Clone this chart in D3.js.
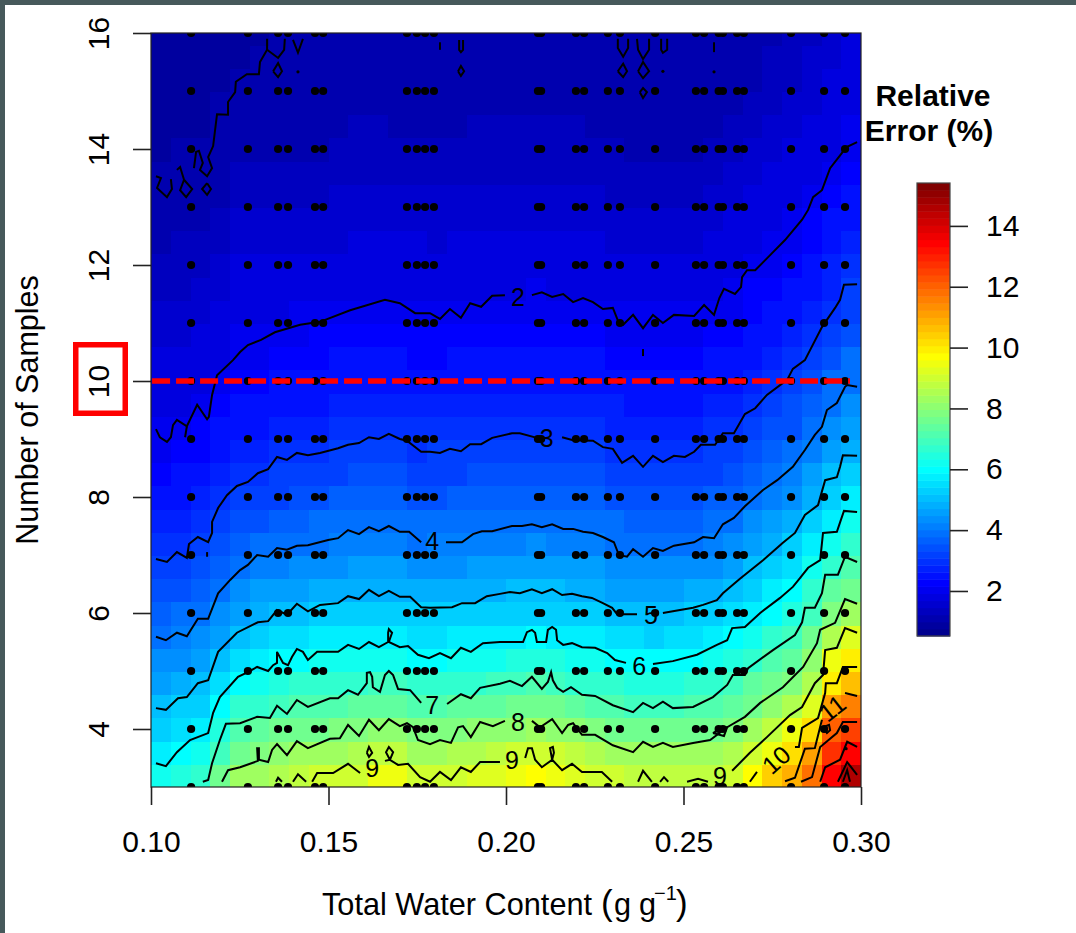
<!DOCTYPE html>
<html>
<head>
<meta charset="utf-8">
<script src="https://cdn.jsdelivr.net/npm/d3@7"></script>
<style>
  body { margin: 0; background: #fff; }
  text { font-family: "Liberation Sans", Arial, sans-serif; fill: #000; }
</style>
</head>
<body>
<div id="my_dataviz"></div>
<script>
// heat cells: centre of each column (g/g) and of each row (samples)
var heatColumns = [.1028,.1083,.1139,.1194,.125,.1306,.1361,.1417,.1472,.1528,.1583,.1639,.1694,.175,.1806,.1861,.1917,.1972,.2028,.2083,.2139,.2194,.225,.2306,.2361,.2417,.2472,.2528,.2583,.2639,.2694,.275,.2806,.2861,.2917,.2972];
var heatRows = [3.2,3.6,4,4.4,4.8,5.2,5.6,6,6.4,6.8,7.2,7.6,8,8.4,8.8,9.2,9.6,10,10.4,10.8,11.2,11.6,12,12.4,12.8,13.2,13.6,14,14.4,14.8,15.2,15.6,16];

// relative error, one line per heatRows entry
var heatValues = [
[6.2,6.4,6.6,7.5,8.2,8.4,8.6,8.8,8.9,9.0,9.1,9.4,9.4,9.0,8.9,9.0,9.2,9.3,9.5,9.6,9.5,9.3,9.1,8.9,8.8,8.8,8.8,8.8,8.8,9.1,9.8,10.3,10.9,11.9,13.5,14.6],
[5.8,6.0,6.2,7.0,7.7,7.9,8.1,8.2,8.3,8.4,8.5,8.7,8.7,8.4,8.4,8.5,8.6,8.7,8.9,9.1,8.9,8.7,8.5,8.4,8.2,8.2,8.2,8.2,8.3,8.5,9.0,9.5,10.1,11.0,12.7,13.4],
[5.4,5.6,5.8,6.5,7.1,7.3,7.5,7.6,7.7,7.8,7.9,8.0,8.0,7.8,7.8,7.9,8.0,8.0,8.1,8.2,8.1,8.0,7.9,7.7,7.6,7.5,7.5,7.6,7.7,7.9,8.2,8.8,9.4,10.1,12.0,12.4],
[5.0,5.2,5.4,6.0,6.6,6.8,6.9,7.1,7.2,7.2,7.3,7.4,7.4,7.2,7.2,7.3,7.4,7.4,7.5,7.6,7.5,7.4,7.2,7.1,7.0,7.0,7.0,7.1,7.2,7.4,7.7,8.1,8.6,9.3,11.1,11.5],
[4.6,4.8,5.0,5.6,6.1,6.3,6.5,6.6,6.7,6.8,6.8,6.9,6.9,6.7,6.7,6.8,6.8,6.9,7.0,7.1,7.0,6.8,6.7,6.6,6.5,6.4,6.5,6.6,6.7,6.9,7.3,7.5,7.8,8.6,10.0,10.7],
[4.3,4.4,4.6,5.1,5.6,5.8,6.0,6.1,6.2,6.2,6.2,6.3,6.3,6.1,6.1,6.2,6.2,6.3,6.4,6.5,6.4,6.3,6.2,6.0,5.9,5.9,6.0,6.1,6.2,6.4,6.8,7.1,7.4,8.0,9.4,9.9],
[4.0,4.1,4.3,4.7,5.1,5.3,5.5,5.6,5.7,5.7,5.8,5.8,5.8,5.6,5.6,5.7,5.7,5.8,5.8,5.9,5.8,5.8,5.7,5.6,5.5,5.4,5.5,5.6,5.8,6.0,6.3,6.6,7.0,7.5,8.5,9.2],
[3.7,3.8,3.9,4.3,4.7,4.9,5.0,5.1,5.2,5.3,5.3,5.3,5.3,5.2,5.2,5.2,5.3,5.3,5.4,5.4,5.4,5.3,5.2,5.1,5.0,5.0,5.1,5.2,5.3,5.5,5.8,6.1,6.5,7.0,7.8,8.4],
[3.4,3.5,3.6,4.0,4.3,4.5,4.6,4.7,4.8,4.9,4.9,4.9,4.9,4.8,4.8,4.8,4.9,4.9,5.0,5.0,5.0,4.9,4.9,4.7,4.7,4.6,4.7,4.8,4.8,5.0,5.4,5.7,6.0,6.6,7.3,7.7],
[3.1,3.2,3.4,3.7,4.0,4.1,4.2,4.3,4.4,4.4,4.5,4.5,4.5,4.4,4.4,4.4,4.5,4.5,4.6,4.6,4.6,4.5,4.5,4.4,4.3,4.3,4.3,4.4,4.4,4.6,5.0,5.3,5.6,6.2,6.8,7.1],
[2.9,3.0,3.1,3.4,3.7,3.8,3.9,4.0,4.0,4.1,4.1,4.1,4.1,4.0,4.1,4.1,4.1,4.2,4.2,4.3,4.2,4.2,4.1,4.0,4.0,3.9,3.9,4.0,4.1,4.3,4.6,4.9,5.2,5.7,6.2,6.6],
[2.7,2.8,2.9,3.1,3.4,3.5,3.6,3.7,3.8,3.8,3.8,3.8,3.8,3.8,3.8,3.8,3.8,3.9,3.9,4.0,3.9,3.9,3.8,3.8,3.7,3.6,3.7,3.7,3.8,4.0,4.3,4.5,4.8,5.3,5.8,6.2],
[2.5,2.6,2.7,2.9,3.1,3.2,3.3,3.5,3.5,3.6,3.6,3.6,3.6,3.5,3.5,3.6,3.6,3.6,3.7,3.7,3.7,3.6,3.6,3.5,3.4,3.4,3.5,3.5,3.6,3.7,4.0,4.2,4.4,4.9,5.4,5.8],
[2.3,2.4,2.5,2.7,2.9,3.0,3.1,3.2,3.3,3.3,3.4,3.4,3.4,3.3,3.3,3.3,3.4,3.4,3.4,3.5,3.4,3.4,3.4,3.3,3.2,3.2,3.2,3.3,3.3,3.5,3.7,3.9,4.1,4.5,5.0,5.3],
[2.1,2.2,2.3,2.5,2.8,2.8,2.9,3.0,3.0,3.1,3.1,3.1,3.1,3.0,3.1,3.1,3.1,3.1,3.2,3.2,3.2,3.1,3.1,3.0,3.0,3.0,3.0,3.0,3.1,3.2,3.5,3.6,3.8,4.2,4.6,4.9],
[2.0,2.0,2.2,2.4,2.6,2.6,2.7,2.8,2.8,2.9,2.9,2.9,2.9,2.9,2.9,2.9,2.9,2.9,3.0,3.0,3.0,2.9,2.9,2.8,2.8,2.8,2.8,2.8,2.9,3.0,3.2,3.4,3.5,3.9,4.3,4.6],
[1.9,1.9,2.0,2.2,2.4,2.5,2.5,2.6,2.6,2.7,2.7,2.7,2.7,2.7,2.7,2.7,2.7,2.7,2.8,2.8,2.8,2.7,2.7,2.7,2.6,2.6,2.6,2.6,2.7,2.8,3.0,3.2,3.4,3.7,4.0,4.3],
[1.8,1.8,1.9,2.1,2.2,2.3,2.4,2.5,2.5,2.5,2.6,2.6,2.5,2.5,2.5,2.5,2.6,2.6,2.6,2.6,2.6,2.5,2.6,2.5,2.5,2.5,2.5,2.5,2.5,2.6,2.8,2.9,3.1,3.4,3.8,4.0],
[1.7,1.7,1.8,1.9,2.1,2.1,2.2,2.3,2.3,2.4,2.4,2.4,2.4,2.3,2.3,2.4,2.4,2.4,2.4,2.5,2.4,2.4,2.4,2.3,2.3,2.3,2.3,2.3,2.4,2.5,2.6,2.8,2.9,3.2,3.5,3.8],
[1.6,1.6,1.7,1.8,2.0,2.0,2.1,2.1,2.2,2.2,2.3,2.2,2.2,2.2,2.2,2.2,2.2,2.3,2.3,2.3,2.3,2.2,2.2,2.1,2.1,2.1,2.1,2.1,2.2,2.3,2.5,2.6,2.8,3.0,3.2,3.5],
[1.5,1.5,1.6,1.7,1.9,1.9,1.9,2.0,2.0,2.0,2.1,2.0,2.1,2.0,2.0,2.0,2.1,2.1,2.1,2.1,2.1,2.1,2.1,2.0,2.0,2.0,2.0,2.0,2.0,2.1,2.3,2.5,2.6,2.8,3.0,3.3],
[1.4,1.4,1.5,1.6,1.8,1.8,1.8,1.9,1.9,1.9,1.9,1.9,1.9,1.9,1.9,1.9,1.9,1.9,1.9,2.0,1.9,1.9,1.9,1.9,1.8,1.8,1.8,1.8,1.9,2.0,2.2,2.3,2.4,2.6,2.8,3.1],
[1.3,1.4,1.4,1.5,1.7,1.7,1.7,1.7,1.7,1.7,1.8,1.8,1.8,1.8,1.8,1.8,1.8,1.8,1.8,1.9,1.8,1.8,1.8,1.7,1.7,1.7,1.7,1.7,1.8,1.9,2.0,2.1,2.3,2.4,2.7,2.9],
[1.2,1.3,1.3,1.4,1.6,1.6,1.6,1.6,1.6,1.6,1.7,1.7,1.7,1.7,1.6,1.7,1.7,1.7,1.7,1.7,1.7,1.7,1.7,1.6,1.6,1.6,1.6,1.6,1.7,1.8,1.9,2.0,2.1,2.3,2.5,2.7],
[1.1,1.2,1.2,1.3,1.5,1.5,1.5,1.5,1.5,1.5,1.6,1.6,1.6,1.6,1.5,1.6,1.6,1.6,1.6,1.6,1.6,1.6,1.6,1.5,1.5,1.5,1.5,1.5,1.6,1.7,1.8,1.9,2.0,2.2,2.4,2.6],
[1.1,1.1,1.1,1.2,1.4,1.4,1.4,1.4,1.4,1.5,1.5,1.5,1.5,1.5,1.5,1.5,1.5,1.5,1.5,1.5,1.5,1.5,1.5,1.4,1.4,1.4,1.4,1.4,1.5,1.6,1.7,1.8,1.9,2.0,2.2,2.4],
[1.0,1.0,1.0,1.1,1.3,1.3,1.3,1.3,1.3,1.4,1.4,1.4,1.4,1.4,1.4,1.4,1.4,1.4,1.4,1.4,1.4,1.4,1.4,1.3,1.3,1.3,1.3,1.3,1.4,1.5,1.6,1.7,1.8,1.9,2.0,2.2],
[0.9,1.0,1.0,1.0,1.2,1.2,1.2,1.2,1.2,1.3,1.3,1.3,1.3,1.3,1.3,1.3,1.3,1.3,1.3,1.3,1.3,1.3,1.3,1.3,1.2,1.2,1.2,1.2,1.3,1.4,1.5,1.6,1.7,1.8,1.9,2.1],
[0.9,0.9,0.9,1.0,1.1,1.1,1.2,1.2,1.2,1.2,1.3,1.3,1.2,1.2,1.2,1.2,1.3,1.3,1.3,1.3,1.3,1.3,1.2,1.2,1.2,1.1,1.1,1.2,1.2,1.3,1.4,1.5,1.6,1.7,1.9,2.0],
[0.9,0.9,0.9,1.0,1.1,1.1,1.1,1.1,1.1,1.2,1.2,1.2,1.2,1.2,1.2,1.2,1.2,1.2,1.2,1.2,1.2,1.2,1.2,1.1,1.1,1.1,1.1,1.1,1.1,1.2,1.3,1.4,1.5,1.6,1.8,1.9],
[0.8,0.9,0.8,0.9,1.0,1.0,1.0,1.1,1.1,1.1,1.1,1.1,1.1,1.1,1.1,1.1,1.2,1.2,1.2,1.2,1.2,1.1,1.1,1.1,1.0,1.0,1.0,1.1,1.1,1.2,1.2,1.3,1.4,1.5,1.7,1.8],
[0.8,0.8,0.8,0.9,0.9,1.0,1.0,1.0,1.0,1.1,1.1,1.1,1.0,1.0,1.0,1.1,1.1,1.1,1.1,1.1,1.1,1.1,1.1,1.0,1.0,1.0,1.0,1.0,1.0,1.1,1.2,1.3,1.4,1.5,1.6,1.8],
[0.8,0.8,0.8,0.9,0.9,0.9,1.0,1.0,1.0,1.0,1.0,1.0,1.0,1.0,1.0,1.0,1.1,1.1,1.1,1.1,1.1,1.0,1.0,1.0,1.0,1.0,1.0,1.0,1.0,1.1,1.1,1.2,1.3,1.4,1.6,1.7]
];

// sampled water contents and sample counts (the black dots)
var waterContents = [.1113,.1273,.1358,.1386,.1462,.1485,.1721,.1749,.1772,.1797,.2090,.2099,.2197,.2220,.2287,.2321,.2420,.2535,.2558,.2599,.2611,.2651,.2670,.2803,.2896,.2955];
var sampleCounts = [3,4,5,6,7,8,9,10,11,12,13,14,15,16];

// contour pieces, [water content, samples]; a gap is a new piece
var contour1 = [
  [[.1014,13.53],[.1028,13.5],[.1017,13.33],[.1045,13.17],[.1059,13.31],[.1056,13.48]],
  [[.1073,13.64],[.1082,13.69],[.1093,13.47],[.1082,13.29],[.1099,13.17],[.1116,13.31],[.1093,13.47]],
  [[.1158,13.41],[.1169,13.31],[.1158,13.21],[.1144,13.31],[.1158,13.41]],
  [[.1121,13.67],[.1127,13.95],[.1135,13.97],[.1146,13.76],[.1138,13.64],[.1158,13.53],[.1172,13.67],[.1161,13.86],[.1175,14.05],[.1186,14.60],[.1217,14.59],[.1217,14.81],[.1237,14.98],[.1239,15.16],[.1270,15.29],[.1304,15.29],[.1307,15.5],[.1327,15.71],[.1327,15.9]],
  [[.1327,15.71],[.1358,15.57],[.1375,15.71],[.1377,15.9]],
  [[.1400,15.88],[.1414,15.66],[.1428,15.9]],
  [[.1344,15.34],[.1358,15.48],[.1369,15.34],[.1358,15.24],[.1344,15.34]],
  [[.1814,15.84],[.1814,15.71]],
  [[.1868,15.88],[.1868,15.71],[.1873,15.67],[.1879,15.71],[.1879,15.88]],
  [[.1865,15.34],[.1873,15.43],[.1882,15.34],[.1873,15.26],[.1865,15.34]],
  [[.2315,15.9],[.2315,15.74],[.2330,15.59],[.2344,15.74],[.2344,15.9]],
  [[.2369,15.9],[.2372,15.71],[.2386,15.55],[.2403,15.71],[.2403,15.9]],
  [[.2437,15.9],[.2437,15.71],[.2442,15.66],[.2454,15.71],[.2454,15.9]],
  [[.2586,15.84],[.2586,15.67]],
  [[.2315,15.34],[.2330,15.47],[.2341,15.34],[.2330,15.24],[.2315,15.34]],
  [[.2372,15.34],[.2386,15.5],[.2403,15.34],[.2386,15.22],[.2372,15.34]],
  [[.2377,14.98],[.2386,15.05],[.2397,14.98],[.2386,14.88],[.2377,14.98]]
];
var contour2 = [
  [[.1014,9.17],[.1025,9.03],[.1045,8.95],[.1056,9.03],[.1062,9.24],[.1073,9.33],[.1101,9.22],[.1130,9.59],[.1158,9.34],[.1163,9.38],[.1172,9.76],[.1186,10.10],[.1231,10.36],[.1251,10.5],[.1273,10.62],[.1310,10.71],[.1349,10.84],[.1420,10.97],[.1476,11.02],[.1561,11.22],[.1659,11.40],[.1701,11.34],[.1744,11.17],[.1786,11.17],[.1814,11.07],[.1842,11.24],[.1873,11.09],[.1899,11.34],[.1930,11.28],[.1961,11.47],[.1997,11.48]],
  [[.2073,11.48],[.2101,11.53],[.2130,11.45],[.2161,11.5],[.2189,11.36],[.2217,11.43],[.2245,11.36],[.2273,11.24],[.2301,11.26],[.2318,11.0],[.2330,10.97],[.2358,11.14],[.2386,10.91],[.2414,11.14],[.2442,11.0],[.2473,11.14],[.2530,11.12],[.2558,11.31],[.2586,11.14],[.2601,11.43],[.2614,11.59],[.2645,11.5],[.2662,11.62],[.2665,11.79],[.2679,11.91],[.2702,11.91],[.2744,12.17],[.2786,12.43],[.2834,12.78],[.2851,12.95],[.2865,13.17],[.2890,13.29],[.2913,13.67],[.2946,13.93],[.2955,14.02],[.2989,14.12]],
  [[.1101,9.22],[.1096,9.03]],
  [[.2386,10.55],[.2386,10.43]]
];
var contour3 = [
  [[.1014,6.93],[.1045,6.88],[.1073,7.05],[.1101,6.95],[.1107,7.19],[.1132,7.31],[.1161,7.22],[.1172,7.38],[.1172,7.57],[.1189,7.81],[.1214,8.03],[.1242,8.19],[.1273,8.26],[.1301,8.41],[.1330,8.48],[.1355,8.69],[.1383,8.64],[.1411,8.76],[.1442,8.72],[.1476,8.76],[.1527,8.84],[.1555,8.90],[.1586,8.93],[.1614,9.03],[.1642,9.0],[.1670,9.09],[.1701,9.0],[.1721,8.97],[.1761,8.78],[.1786,8.78],[.1814,8.76],[.1842,8.83],[.1873,8.79],[.1899,8.91],[.1930,8.91],[.1961,9.02],[.2017,9.10],[.2039,9.10],[.2087,9.02]],
  [[.2158,9.03],[.2189,8.98],[.2245,8.97],[.2273,8.86],[.2301,8.83],[.2327,8.59],[.2358,8.71],[.2386,8.52],[.2414,8.71],[.2442,8.60],[.2473,8.71],[.2504,8.69],[.2530,8.78],[.2549,8.90],[.2589,8.90],[.2611,9.10],[.2642,9.10],[.2673,9.43],[.2702,9.53],[.2735,9.76],[.2792,10.02],[.2808,10.21],[.2842,10.36],[.2890,10.93],[.2927,11.26],[.2941,11.40],[.2952,11.66],[.2989,11.67]],
  [[.1158,7.05],[.1158,6.97]]
];
var contour4 = [
  [[.1014,5.59],[.1042,5.53],[.1073,5.66],[.1101,5.60],[.1132,5.90],[.1161,5.90],[.1189,6.34],[.1223,6.57],[.1251,6.74],[.1273,6.83],[.1299,7.0],[.1330,6.97],[.1355,7.12],[.1383,7.09],[.1411,7.16],[.1442,7.17],[.1499,7.26],[.1527,7.29],[.1555,7.43],[.1586,7.36],[.1614,7.48],[.1642,7.41],[.1670,7.5],[.1701,7.40],[.1727,7.40],[.1761,7.22]],
  [[.1831,7.22],[.1876,7.22],[.1907,7.36],[.1932,7.41],[.1961,7.41],[.2017,7.5],[.2045,7.5],[.2073,7.53],[.2101,7.48],[.2130,7.53],[.2161,7.45],[.2189,7.45],[.2217,7.40],[.2245,7.38],[.2273,7.31],[.2304,7.22],[.2318,7.0],[.2341,6.97],[.2358,7.10],[.2386,6.97],[.2414,7.12],[.2442,7.07],[.2473,7.16],[.2530,7.22],[.2555,7.31],[.2586,7.29],[.2611,7.53],[.2642,7.64],[.2673,7.84],[.2724,8.12],[.2764,8.29],[.2808,8.52],[.2842,8.81],[.2870,9.07],[.2890,9.21],[.2904,9.5],[.2932,9.62],[.2955,9.90],[.2961,9.93],[.2989,9.90]]
];
var contour5 = [
  [[.1014,4.36],[.1042,4.33],[.1076,4.53],[.1101,4.55],[.1132,4.79],[.1161,4.84],[.1189,5.33],[.1242,5.66],[.1301,5.84],[.1330,5.86],[.1355,6.05],[.1383,5.97],[.1411,6.16],[.1442,6.03],[.1476,6.14],[.1527,6.17],[.1555,6.29],[.1586,6.24],[.1614,6.40],[.1642,6.29],[.1670,6.38],[.1701,6.28],[.1730,6.28],[.1761,6.10],[.1786,6.09],[.1848,6.10],[.1876,6.17],[.1913,6.17],[.1946,6.29],[.1983,6.33],[.2011,6.36],[.2039,6.34],[.2073,6.41],[.2101,6.34],[.2130,6.41],[.2158,6.31],[.2186,6.33],[.2214,6.29],[.2242,6.26],[.2273,6.17],[.2299,6.09],[.2313,5.98],[.2369,5.98]],
  [[.2442,6.0],[.2470,6.03],[.2527,6.09],[.2555,6.14],[.2594,6.22],[.2611,6.34],[.2659,6.59],[.2724,6.91],[.2780,7.21],[.2814,7.38],[.2842,7.69],[.2879,7.86],[.2899,8.29],[.2932,8.34],[.2941,8.52],[.2949,8.72],[.2989,8.71]]
];
var contour6 = [
  [[.1014,3.41],[.1042,3.36],[.1073,3.60],[.1110,3.81],[.1161,3.93],[.1175,4.28],[.1194,4.55],[.1245,4.90],[.1273,4.98],[.1299,5.07],[.1330,5.0],[.1344,5.10],[.1355,5.14],[.1355,5.33],[.1372,5.14],[.1386,5.10],[.1397,5.24],[.1411,5.38],[.1428,5.33],[.1442,5.19],[.1468,5.33],[.1527,5.33],[.1555,5.45],[.1586,5.38],[.1614,5.5],[.1642,5.41],[.1668,5.5],[.1668,5.66],[.1670,5.72],[.1679,5.66],[.1670,5.5],[.1701,5.41],[.1724,5.43],[.1752,5.28],[.1783,5.22],[.1814,5.31],[.1845,5.22],[.1873,5.40],[.1901,5.33],[.1935,5.48],[.1983,5.5],[.2048,5.5],[.2059,5.67],[.2073,5.71],[.2082,5.66],[.2087,5.5],[.2113,5.5],[.2118,5.71],[.2130,5.76],[.2141,5.71],[.2144,5.53],[.2161,5.45],[.2186,5.48],[.2214,5.41],[.2251,5.40],[.2285,5.31],[.2307,5.19],[.2338,5.14]],
  [[.2414,5.12],[.2470,5.17],[.2538,5.28],[.2594,5.45],[.2623,5.53],[.2637,5.74],[.2673,5.76],[.2716,6.0],[.2772,6.26],[.2808,6.45],[.2828,6.60],[.2851,6.78],[.2885,6.91],[.2893,7.38],[.2932,7.40],[.2952,7.76],[.2989,7.74]]
];
var contour7 = [
  [[.1146,3.09],[.1161,3.12],[.1172,3.41],[.1194,3.81],[.1211,4.09],[.1251,4.10],[.1299,4.21],[.1335,4.19],[.1355,4.40],[.1383,4.26],[.1411,4.5],[.1442,4.38],[.1504,4.53],[.1527,4.53],[.1555,4.67],[.1583,4.59],[.1608,4.79],[.1608,4.97],[.1617,4.98],[.1623,4.90],[.1625,4.72],[.1645,4.64],[.1659,4.93],[.1670,5.0],[.1682,4.93],[.1696,4.69],[.1730,4.67],[.1761,4.45]],
  [[.1834,4.43],[.1873,4.60],[.1901,4.53],[.1927,4.71],[.1983,4.78],[.2011,4.83],[.2045,4.74],[.2073,4.90],[.2101,4.69],[.2118,4.81],[.2127,4.98],[.2132,4.84],[.2144,4.71],[.2161,4.64],[.2183,4.72],[.2214,4.59],[.2251,4.57],[.2301,4.41],[.2358,4.29],[.2386,4.45],[.2414,4.36],[.2442,4.47],[.2470,4.36],[.2527,4.38],[.2583,4.55],[.2623,4.76],[.2639,4.93],[.2673,4.93],[.2682,5.05],[.2752,5.36],[.2814,5.62],[.2834,5.84],[.2842,6.09],[.2870,6.09],[.2890,6.34],[.2899,6.66],[.2935,6.66],[.2955,6.97],[.2989,6.88]]
];
var contour8 = [
  [[.1200,3.09],[.1217,3.29],[.1251,3.34],[.1301,3.45],[.1299,3.67],[.1304,3.67],[.1304,3.47],[.1330,3.43],[.1341,3.64],[.1355,3.74],[.1383,3.55],[.1411,3.79],[.1442,3.67],[.1504,3.83],[.1532,3.84],[.1555,4.07],[.1586,3.88],[.1614,4.16],[.1642,3.98],[.1670,4.17],[.1701,4.05],[.1721,4.10],[.1738,4.03],[.1752,3.81],[.1786,3.74],[.1814,3.81],[.1845,3.76],[.1865,4.03],[.1879,4.05],[.1901,3.86],[.1927,4.12],[.1963,4.05],[.1997,4.14]],
  [[.2073,4.14],[.2096,4.03],[.2130,4.17],[.2158,3.93],[.2175,4.07],[.2189,4.10],[.2214,3.90],[.2251,3.90],[.2301,3.72],[.2358,3.60],[.2386,3.78],[.2414,3.69],[.2442,3.76],[.2470,3.69],[.2527,3.76],[.2575,3.81],[.2623,4.03],[.2673,4.21],[.2716,4.45],[.2780,4.72],[.2837,5.07],[.2876,5.48],[.2885,5.71],[.2927,5.83],[.2955,6.24],[.2989,6.16]],
  [[.2583,3.93],[.2608,4.02],[.2623,4.03],[.2614,3.88],[.2583,3.93]]
];
var contour9 = [
  [[.1352,3.09],[.1358,3.16],[.1369,3.09]],
  [[.1400,3.09],[.1414,3.22],[.1437,3.09]],
  [[.1454,3.09],[.1468,3.24],[.1513,3.24],[.1555,3.40],[.1589,3.24]],
  [[.1608,3.59],[.1614,3.69],[.1623,3.59],[.1614,3.52],[.1608,3.59]],
  [[.1659,3.45],[.1673,3.47],[.1662,3.60],[.1670,3.69],[.1682,3.60],[.1673,3.47],[.1696,3.38],[.1724,3.40],[.1758,3.17],[.1786,3.09],[.1814,3.26],[.1845,3.12],[.1873,3.34],[.1901,3.26],[.1927,3.43],[.1983,3.43]],
  [[.2054,3.50],[.2062,3.67],[.2073,3.67],[.2082,3.47],[.2101,3.34],[.2130,3.47],[.2124,3.67],[.2132,3.69],[.2135,3.59],[.2130,3.47],[.2158,3.29],[.2186,3.40],[.2214,3.26],[.2270,3.26],[.2299,3.09]],
  [[.2372,3.09],[.2386,3.28],[.2411,3.09]],
  [[.2434,3.09],[.2445,3.17],[.2457,3.09]],
  [[.2510,3.09],[.2541,3.14],[.2569,3.09]],
  [[.2637,3.28],[.2687,3.59],[.2735,3.86],[.2800,4.24],[.2834,4.38],[.2870,4.79],[.2893,4.93],[.2899,5.36],[.2932,5.40],[.2955,5.74],[.2989,5.66]]
];
var contour10 = [
  [[.2687,3.09],[.2707,3.26]],
  [[.2814,3.69],[.2825,3.69],[.2834,4.02],[.2879,4.19],[.2899,4.62],[.2901,4.79],[.2932,4.79],[.2949,5.07],[.2989,5.07]]
];
var contour11 = [
  [[.2786,3.10],[.2814,3.16],[.2842,3.66],[.2870,3.67],[.2890,4.16]],
  [[.2955,4.62],[.2989,4.57]],
  [[.2893,4.03],[.2910,4.07],[.2913,3.98],[.2904,3.93],[.2893,4.03]]
];
var contour12 = [[[.2831,3.09],[.2862,3.17],[.2885,3.69],[.2932,3.93],[.2949,4.12],[.2989,4.12]]];
var contour13 = [[[.2885,3.09],[.2899,3.34],[.2941,3.47],[.2961,3.78],[.2989,3.69]]];
var contour14 = [[[.2935,3.09],[.2961,3.43],[.2989,3.21]]];
var contour15 = [[[.2949,3.09],[.2961,3.29],[.2969,3.09]]];
var contourSpecks = [[.1414,15.33],[.2442,15.34],[.2586,15.33],[.2958,3.66]];

var labelText = ["2","3","4","5","6","7","8","9","9","9","10","11"];
var labelX = [.2034,.2115,.1792,.2408,.2375,.1792,.2034,.1623,.2017,.2603,.2761,.2919];
var labelY = [11.45,9.02,7.24,5.97,5.09,4.41,4.12,3.33,3.47,3.19,3.47,4.36];
var labelAngle = {"10": -42, "11": -38};

var xTicks = [.10,.15,.20,.25,.30];
var yTicks = [4,6,8,10,12,14,16];
var legendTicks = [2,4,6,8,10,12,14];
var errorRange = [.52,15.41];

// set the dimensions of the plot
var plot = {left: 151, right: 861, top: 33, bottom: 787};
var fontSize = 30, axisColor = "#222";

var svg = d3.select("#my_dataviz")
.append("svg")
.attr("width", 1076)
.attr("height", 933)
.style("display", "block");

// slide border, top and left
svg.append("rect").attr("width", 1076).attr("height", 5).attr("fill", "#47595b");
svg.append("rect").attr("width", 5).attr("height", 933).attr("fill", "#47595b");

var x = d3.scaleLinear().domain([.10,.30]).range([plot.left, plot.right]);
var y = d3.scaleLinear().domain([3,16]).range([plot.bottom, plot.top]);

// 64 step jet palette, same as the legend
var jet = d3.scaleLinear()
  .domain([0,7,23,39,55,63])
  .range(["#00008F","#0000FF","#00FFFF","#FFFF00","#FF0000","#800000"]);
var color = d3.scaleQuantize().domain(errorRange).range(d3.range(64).map(function(i) { return jet(i); }));

svg.append("clipPath").attr("id", "plotClip")
  .append("rect")
  .attr("x", plot.left).attr("y", plot.top)
  .attr("width", plot.right - plot.left).attr("height", plot.bottom - plot.top);

var body = svg.append("g").attr("clip-path", "url(#plotClip)");

// heat cells, one pixel over so no seams show
var halfW = (heatColumns[1] - heatColumns[0]) / 2, halfH = (heatRows[1] - heatRows[0]) / 2;
var cells = [];
heatRows.forEach(function(r, i) {
  heatColumns.forEach(function(c, j) { cells.push({c: c, r: r, v: heatValues[i][j]}); });
});
body.append("g")
  .selectAll("rect")
  .data(cells)
  .enter()
  .append("rect")
    .attr("x", function(d) { return x(d.c - halfW); })
    .attr("y", function(d) { return y(d.r + halfH); })
    .attr("width", x(2 * halfW) - x(0) + 1)
    .attr("height", y(0) - y(2 * halfH) + 1)
    .attr("shape-rendering", "crispEdges")
    .style("fill", function(d) { return color(d.v); });

// sample dots
var dots = [];
sampleCounts.forEach(function(s) {
  waterContents.forEach(function(w) { dots.push([w, s]); });
});
body.append("g")
  .selectAll("circle")
  .data(dots)
  .enter()
  .append("circle")
    .attr("r", 4.1)
    .attr("cx", function(d) { return x(d[0]); })
    .attr("cy", function(d) { return y(d[1]); })
    .style("fill", "#000");

// contours
var line = d3.line()
  .x(function(d) { return x(d[0]); })
  .y(function(d) { return y(d[1]); });
var allContours = [contour1,contour2,contour3,contour4,contour5,contour6,contour7,contour8,contour9,contour10,contour11,contour12,contour13,contour14,contour15];
allContours.forEach(function(pieces) {
  body.append("g")
    .selectAll("path")
    .data(pieces)
    .enter()
    .append("path")
      .attr("d", line)
      .style("fill", "none")
      .style("stroke", "#000")
      .style("stroke-width", 2);
});
body.append("g")
  .selectAll("circle")
  .data(contourSpecks)
  .enter()
  .append("circle")
    .attr("r", 1.6)
    .attr("cx", function(d) { return x(d[0]); })
    .attr("cy", function(d) { return y(d[1]); })
    .style("fill", "#000");

// contour labels
body.append("g")
  .selectAll("text")
  .data(labelText)
  .enter()
  .append("text")
    .attr("transform", function(d, i) {
      return "translate(" + x(labelX[i]) + "," + y(labelY[i]) + ") rotate(" + (labelAngle[d] || 0) + ")";
    })
    .attr("text-anchor", "middle")
    .attr("dy", "0.36em")
    .style("font-size", "25px")
    .text(function(d) { return d; });

// red dashed line at 10 samples
svg.append("line")
  .attr("x1", x(.1003)).attr("x2", x(.2969))
  .attr("y1", y(10)).attr("y2", y(10))
  .style("stroke", "#f00")
  .style("stroke-width", 5.5)
  .style("stroke-dasharray", "18,6");

// box round the plot
svg.append("rect")
  .attr("x", plot.left).attr("y", plot.top)
  .attr("width", plot.right - plot.left).attr("height", plot.bottom - plot.top)
  .style("fill", "none")
  .style("stroke", axisColor)
  .style("stroke-width", 1.2);

function styleAxis(g) {
  g.select(".domain").remove();
  g.selectAll(".tick line").style("stroke", axisColor).style("stroke-width", 1.6);
  g.selectAll(".tick text").style("font-size", fontSize + "px").style("font-family", '"Liberation Sans", Arial, sans-serif').style("fill", "#000");
}

// x axis
svg.append("g")
  .attr("transform", "translate(0," + plot.bottom + ")")
  .call(d3.axisBottom(x).tickValues(xTicks).tickFormat(d3.format(".2f")).tickSize(18).tickPadding(26))
  .call(styleAxis);

// y axis, labels turned
svg.append("g")
  .attr("transform", "translate(" + plot.left + ",0)")
  .call(d3.axisLeft(y).tickValues(yTicks).tickSize(18))
  .call(styleAxis)
  .selectAll(".tick text")
    .attr("x", 0).attr("dy", 0)
    .attr("text-anchor", "middle")
    .attr("transform", "translate(-42,0) rotate(-90)");

// axis titles
svg.append("text")
  .attr("transform", "translate(38,410) rotate(-90)")
  .attr("text-anchor", "middle")
  .style("font-size", "30.5px")
  .text("Number of Samples");

var xTitle = svg.append("text").attr("x", 322).attr("y", 915).style("font-size", "30.7px");
xTitle.append("tspan").text("Total Water Content");
xTitle.append("tspan").attr("x", 601).style("font-size", "35px").text("(");
xTitle.append("tspan").attr("x", 614).text("g");
xTitle.append("tspan").attr("x", 639).text("g");
xTitle.append("tspan").attr("x", 654).attr("dy", -15).style("font-size", "20px").text("\u22121");
xTitle.append("tspan").attr("x", 676).attr("dy", 15).style("font-size", "35px").text(")");

// red box round the 10 label
svg.append("rect")
  .attr("x", 75.75).attr("y", 344.75)
  .attr("width", 49.5).attr("height", 68.5)
  .style("fill", "none")
  .style("stroke", "#f00")
  .style("stroke-width", 5.5);

// legend
var legendY = d3.scaleLinear().domain(errorRange).range([636, 183]);
svg.append("g")
  .selectAll("rect")
  .data(color.range())
  .enter()
  .append("rect")
    .attr("x", 917)
    .attr("width", 33)
    .attr("y", function(d) { return legendY(color.invertExtent(d)[1]); })
    .attr("height", function(d) { var e = color.invertExtent(d); return legendY(e[0]) - legendY(e[1]) + .5; })
    .style("fill", function(d) { return d; });
svg.append("rect")
  .attr("x", 917).attr("y", 183).attr("width", 33).attr("height", 453)
  .style("fill", "none").style("stroke", "#444").style("stroke-width", 1.2);
svg.append("g")
  .attr("transform", "translate(950,0)")
  .call(d3.axisRight(legendY).tickValues(legendTicks).tickSize(18).tickPadding(18))
  .call(styleAxis);

svg.append("text").attr("x", 933).attr("y", 106).attr("text-anchor", "middle")
  .style("font-size", fontSize + "px").style("font-weight", "bold").text("Relative");
svg.append("text").attr("x", 929).attr("y", 141).attr("text-anchor", "middle")
  .style("font-size", fontSize + "px").style("font-weight", "bold").text("Error (%)");
</script>
</body>
</html>
